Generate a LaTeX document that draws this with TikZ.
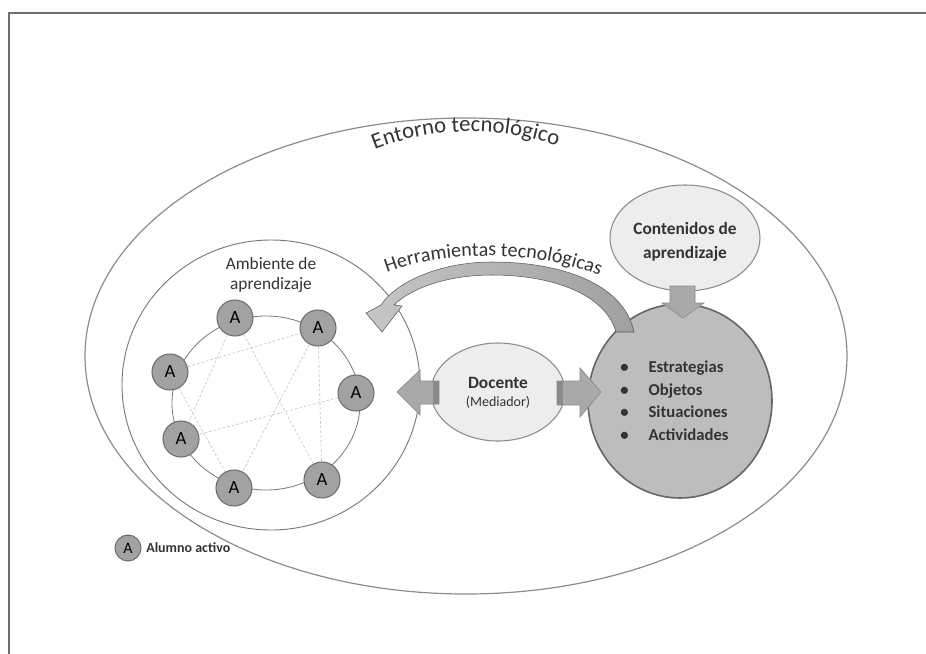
\documentclass[tikz,border=0pt]{standalone}
\usepackage{fontspec}
\setmainfont{Carlito}
\usetikzlibrary{shapes.geometric,decorations.text}
\definecolor{framec}{HTML}{6E6E6E}
\definecolor{linec}{HTML}{8C8C8C}
\definecolor{ambline}{HTML}{7A7A7A}
\definecolor{afill}{HTML}{A2A2A2}
\definecolor{aborder}{HTML}{6E6E6E}
\definecolor{bigfill}{HTML}{BDBDBD}
\definecolor{lightfill}{HTML}{EDEDED}
\definecolor{arrfill}{HTML}{A9A9A9}
\definecolor{arrdark}{HTML}{8A8A8A}
\definecolor{txt}{HTML}{333333}
\begin{document}
\begin{tikzpicture}[x=0.75pt,y=-0.75pt,
  shapeline/.style={draw=linec, line width=0.9pt},
  anode/.style={circle, draw=aborder, line width=0.8pt, fill=afill, minimum size=27pt, inner sep=0pt,
     font=\fontsize{14}{16}\selectfont, text=black},
  innerline/.style={draw=gray!45, dashed, dash pattern=on 2pt off 1.5pt, line width=0.5pt},
  blockarrow/.style={fill=arrfill, draw=arrdark, line width=0.5pt},
  stripe/.style={fill=arrdark, draw=none}]
\useasboundingbox (0,0) rectangle (926,654);
\draw[framec, line width=1.6pt] (9,654) -- (9,13) -- (926,13);

% outer environment
\node[ellipse, shapeline, minimum width=571.5pt, minimum height=357pt, inner sep=0pt] (entorno) at (466,356) {};
\path[decorate, decoration={text along path, text align=center,
   text={|\fontsize{17}{20}\selectfont\color{txt}|Entorno tecnol{ó}gico}}]
   (358,157) .. controls (420,126) and (505,122) .. (574,153);

% learning environment
\node[ellipse, draw=ambline, line width=0.7pt, fill=white, minimum width=223.5pt, minimum height=217.5pt, inner sep=0pt] (ambiente) at (271,385) {};
\node[align=center, font=\fontsize{13}{15}\selectfont, text=txt] (ambtxt) at (271,275) {Ambiente de\\aprendizaje};

\node[ellipse, draw=ambline, line width=0.6pt, minimum width=141pt, minimum height=130.5pt, inner sep=0pt] (ring) at (266,403) {};
\node[anode] (a1) at (235,318) {A};
\node[anode] (a2) at (318,328) {A};
\node[anode] (a3) at (170,372) {A};
\node[anode] (a4) at (356,393) {A};
\node[anode] (a5) at (181,439) {A};
\node[anode] (a6) at (322,480) {A};
\node[anode] (a7) at (234,488) {A};
\draw[innerline] (a3) -- (a2);
\draw[innerline] (a4) -- (a5);
\draw[innerline] (a1) -- (a5);
\draw[innerline] (a1) -- (a6);
\draw[innerline] (a2) -- (a7);
\draw[innerline] (a3) -- (a7);
\draw[innerline] (a2) -- (a6);

% legend
\node[anode, minimum size=19.5pt, font=\fontsize{12}{13}\selectfont] (aleg) at (128,548) {A};
\node[anchor=west, font=\fontsize{10.5}{12}\selectfont\bfseries, text=txt, inner sep=0pt] (legtxt) at (146,548) {Alumno activo};

% contents
\node[ellipse, draw=linec, line width=0.8pt, fill=lightfill, minimum width=112.5pt, minimum height=79.5pt, inner sep=0pt] (cont) at (685,238) {};
\node[align=center, font=\fontsize{13}{18.5}\selectfont\bfseries, text=txt] (conttxt) at (685,242) {Contenidos de\\aprendizaje};

% big grey circle
\node[ellipse, draw=gray!80!black, line width=1.2pt, fill=bigfill, minimum width=138pt, minimum height=145.5pt, inner sep=0pt] (big) at (680,401) {};
\node[anchor=west, font=\fontsize{12.5}{16.9}\selectfont\bfseries, text=txt, inner sep=0pt] (list) at (620,402)
  {\begin{tabular}{@{}l@{\hspace{15pt}}l@{}}\textbullet & Estrategias\\ \textbullet & Objetos\\ \textbullet & Situaciones\\ \textbullet & Actividades\end{tabular}};

% down arrow from contents
\draw[blockarrow] (670,286) -- (695,286) -- (695,303) -- (704,303) -- (683,318) -- (662,303) -- (670,303) -- cycle;

% teacher
\node[ellipse, draw=linec, line width=0.8pt, fill=lightfill, minimum width=100.5pt, minimum height=73.5pt, inner sep=0pt] (doc) at (498,392) {};
\node[align=center, text=txt, inner sep=0pt] (doctxt) at (498,393)
  {{\fontsize{13}{15}\selectfont\bfseries Docente}\\[2pt]{\fontsize{10.5}{12}\selectfont (Mediador)}};

% block arrows from teacher
\draw[blockarrow] (439,381) -- (420,381) -- (420,370) -- (397,392) -- (420,415) -- (420,404) -- (439,404) -- cycle;
\fill[stripe] (433,381.4) rectangle (438.6,403.6);
\draw[blockarrow] (557,381) -- (580,381) -- (580,368) -- (601,392) -- (580,417) -- (580,405) -- (557,405) -- cycle;
\fill[stripe] (557.4,381.4) rectangle (563,404.6);

% curved arrow: Herramientas tecnologicas
\shade[left color=gray!45, right color=gray!75, draw=gray!70!black, line width=0.4pt]
  (634,332) .. controls (624,284) and (562,262) .. (492,262)
  .. controls (440,262) and (396,282) .. (381,305)
  -- (366,313) -- (382,332) -- (402,306) -- (394,305)
  .. controls (410,289) and (446,275) .. (492,275)
  .. controls (556,275) and (606,296) .. (616,332) -- cycle;
\path[decorate, decoration={text along path, text align=center,
   text={|\fontsize{15}{18}\selectfont\color{txt}|Herramientas tecnol{ó}gicas}}]
   (374,278) .. controls (430,250) and (545,246) .. (612,282);
\end{tikzpicture}
\end{document}
